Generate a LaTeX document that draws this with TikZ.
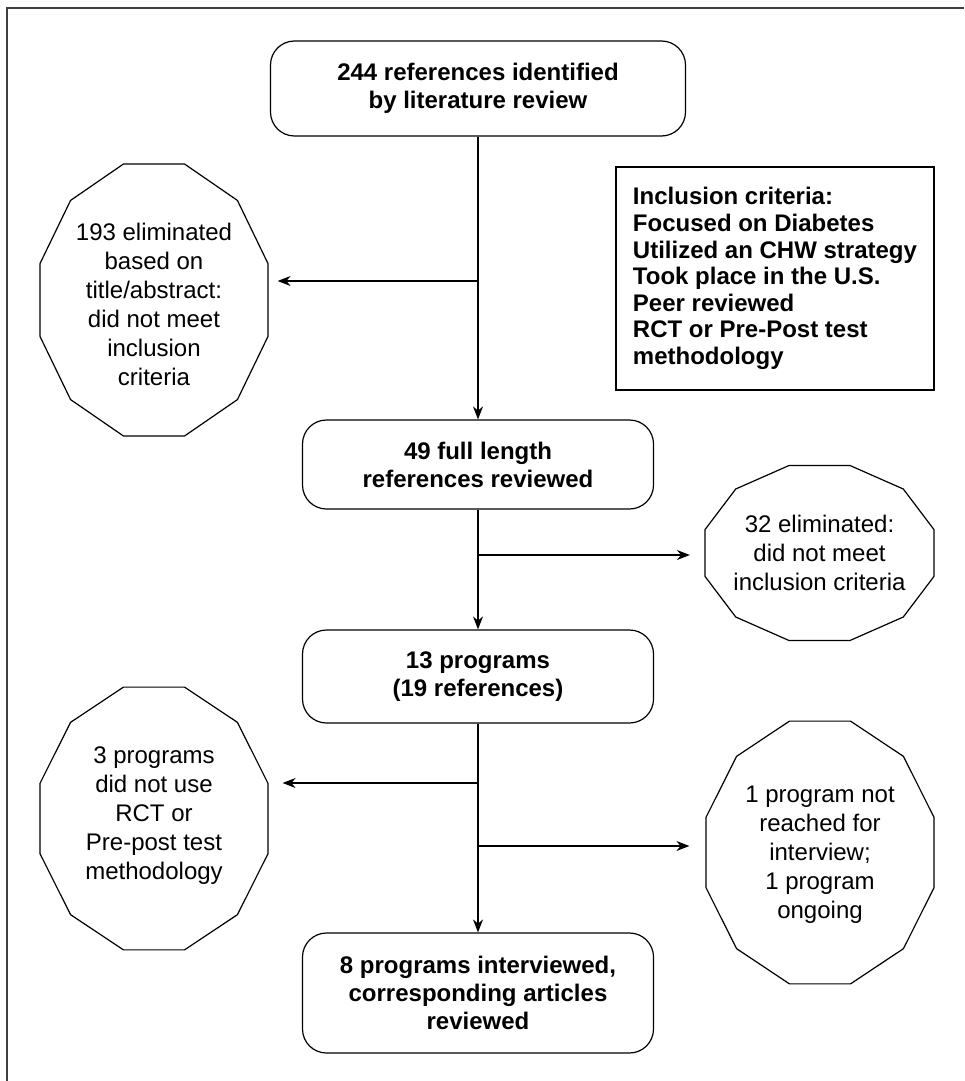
\documentclass[tikz,border=0pt]{standalone}
\usepackage{fontspec}
\setmainfont{Liberation Sans}
\usetikzlibrary{calc,arrows.meta}

\tikzset{
  stagebox/.style={draw, rounded corners=12pt, align=center, inner sep=0pt,
    font=\fontsize{12}{14}\selectfont\bfseries},
  elimtext/.style={align=center, inner sep=0pt, minimum width=114pt,
    font=\fontsize{12}{14.5}\selectfont},
  criteriabox/.style={draw, align=left, inner sep=0pt, minimum width=159pt,
    minimum height=111.5pt, font=\fontsize{12}{13.3}\selectfont\bfseries},
}
% twelve sided outline round a node: name, x radius, y radius
\newcommand{\dodecagon}[3]{%
  \draw ($(#1)+(15:#2 and #3)$) \foreach \a in {45,75,...,345}{ -- ($(#1)+(\a:#2 and #3)$)} -- cycle;}

\begin{document}
\begin{tikzpicture}[x=0.5pt, y=-0.5pt, line width=0.6pt, >={Stealth[length=6.5pt,width=5pt]}]
\useasboundingbox (0,0) rectangle (964,1081);
% frame
\draw[line width=1pt, black!75] (7,1081) -- (7,8) -- (964,8);
% boxes
\node[stagebox, minimum width=207.5pt, minimum height=47.5pt] (found) at (478,88.5)
  {244 references identified\\by literature review};
\node[stagebox, minimum width=175.5pt, minimum height=44.5pt] (full) at (478,464.5)
  {49 full length\\references reviewed};
\node[stagebox, minimum width=175.5pt, minimum height=46.5pt] (progs) at (478,676.5)
  {13 programs\\(19 references)};
\node[stagebox, minimum width=175.5pt, minimum height=60pt] (interv) at (478,993)
  {8 programs interviewed,\\corresponding articles\\reviewed};
%% box Inclusion criteria
\node[criteriabox] (crit) at (775,278.5)
  {Inclusion criteria:\\Focused on Diabetes\\Utilized an CHW strategy\\Took place in the U.S.\\Peer reviewed\\RCT or Pre-Post test\\methodology};
%% eliminated
\node[elimtext] (elimA) at (154,304) {193 eliminated\\based on\\title/abstract:\\did not meet\\inclusion\\criteria};
\dodecagon{154,300}{59pt}{70.4pt}
\node[elimtext] (elimB) at (819.5,553) {32 eliminated:\\did not meet\\inclusion criteria};
\dodecagon{elimB}{59.25pt}{45.25pt}
\node[elimtext] (elimC) at (154,816) {3 programs\\did not use\\RCT or\\Pre-post test\\methodology};
\dodecagon{154,818.5}{59pt}{68pt}
\node[elimtext] (elimD) at (820,855) {1 program not\\reached for\\interview;\\1 program\\ongoing};
\dodecagon{820,852.5}{59pt}{68pt}
% branch points
\coordinate (b1) at (478,281);
\coordinate (b2) at (478,555);
\coordinate (b3) at (478,783);
\coordinate (b4) at (478,846);
\draw[->] (found) -- (full);
\draw[->] (full) -- (progs);
\draw[->] (progs) -- (interv);
\draw[->, shorten >=4.5pt] (b1) -- (b1 -| elimA.east);
\draw[->, shorten >=7.5pt] (b2) -- (b2 -| elimB.west);
\draw[->, shorten >=7pt] (b3) -- (b3 -| elimC.east);
\draw[->, shorten >=8pt] (b4) -- (b4 -| elimD.west);
\end{tikzpicture}
\end{document}
